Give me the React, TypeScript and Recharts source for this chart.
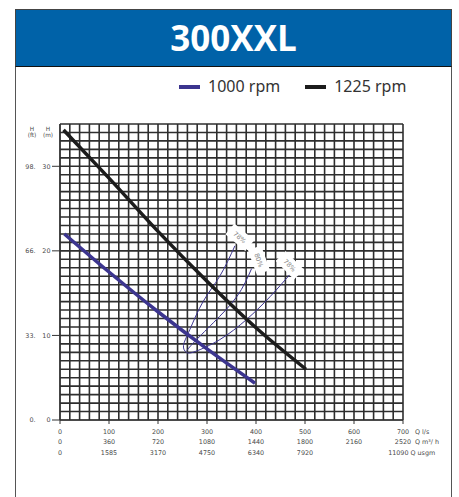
import React from 'react';
import { LineChart, Line, XAxis, YAxis, CartesianGrid, Legend, ReferenceDot } from 'recharts';

// tick labels
const flowLs = [0, 100, 200, 300, 400, 500, 600, 700];
const flowM3h = ['0', '360', '720', '1080', '1440', '1800', '2160', '2520'];
const flowUsgm = ['0', '1585', '3170', '4750', '6340', '7920', '', '11090'];
const headM = [0, 10, 20, 30];
const headFt = ['0.', '33.', '66.', '98.'];

// pump curves (Q l/s, H m)
const rpm1000 = [
  { q: 9, h: 22.0 },
  { q: 100, h: 17.5 },
  { q: 200, h: 12.8 },
  { q: 300, h: 8.4 },
  { q: 398, h: 4.35 },
];
const rpm1225 = [
  { q: 7, h: 34.3 },
  { q: 100, h: 28.6 },
  { q: 200, h: 22.3 },
  { q: 300, h: 16.4 },
  { q: 400, h: 10.9 },
  { q: 502, h: 6.0 },
];

// iso-efficiency curves
const eff78 = [
  { q: 357, h: 20.6 },
  { q: 326, h: 17.0 },
  { q: 292, h: 14.0 },
  { q: 265, h: 10.7 },
  { q: 252, h: 8.8 },
  { q: 258, h: 8.0 },
  { q: 276, h: 8.1 },
  { q: 326, h: 9.5 },
  { q: 381, h: 11.9 },
  { q: 429, h: 14.6 },
  { q: 469, h: 17.2 },
];
const eff80 = [
  { q: 391, h: 17.9 },
  { q: 361, h: 14.6 },
  { q: 313, h: 11.5 },
  { q: 272, h: 9.1 },
  { q: 259, h: 8.2 },
];
const effLabels = [
  { q: 367, h: 21.6, text: '78%', angle: 40 },
  { q: 406, h: 18.9, text: '80%', angle: 70 },
  { q: 469, h: 18.3, text: '78%', angle: 45 },
];

const gridQ = Array.from({ length: 36 }, (_, i) => i * 20);
const gridH = Array.from({ length: 36 }, (_, i) => i);

const PURPLE = '#3c358f';
const INK = '#1c1c1c';
const TICK_FONT = { fontFamily: 'DejaVu Sans', fontSize: 6.4, fill: '#4a4a4a' };

const FlowTick = (props: any) => {
  const { x, y, payload } = props;
  const i = flowLs.indexOf(payload.value);
  const last = i === flowLs.length - 1;
  return (
    <g>
      <text x={x} y={y + 8} textAnchor="middle" {...TICK_FONT}>{flowLs[i]}</text>
      <text x={x} y={y + 17.8} textAnchor="middle" {...TICK_FONT}>{flowM3h[i]}</text>
      <text x={last ? x + 5.5 : x} y={y + 28.6} textAnchor={last ? 'end' : 'middle'} {...TICK_FONT}>{flowUsgm[i]}</text>
      {last && (
        <>
          <text x={x + 12} y={y + 8} {...TICK_FONT}>Q l/s</text>
          <text x={x + 12} y={y + 17.8} {...TICK_FONT}>Q m³/ h</text>
          <text x={x + 7.5} y={y + 28.6} {...TICK_FONT}>Q usgm</text>
        </>
      )}
    </g>
  );
};

const HeadTick = (props: any) => {
  const { x, y, payload } = props;
  const i = headM.indexOf(payload.value);
  return (
    <g>
      <text x={x + 0.5} y={y + 2.3} textAnchor="end" {...TICK_FONT}>{headM[i]}</text>
      <text x={x - 14.5} y={y + 2.3} textAnchor="end" {...TICK_FONT}>{headFt[i]}</text>
    </g>
  );
};

const HeadLabel = () => (
  <g>
    <text x={48} y={130.5} textAnchor="middle" {...TICK_FONT} fontSize={5.8}>H</text>
    <text x={48} y={136.5} textAnchor="middle" {...TICK_FONT} fontSize={5.8}>(m)</text>
    <text x={32} y={130.5} textAnchor="middle" {...TICK_FONT} fontSize={5.8}>H</text>
    <text x={32} y={136.5} textAnchor="middle" {...TICK_FONT} fontSize={5.8}>(ft)</text>
  </g>
);

const EffTag = (props: any) => {
  const { cx, cy, text, angle } = props;
  return (
    <g transform={`translate(${cx},${cy}) rotate(${angle})`}>
      <rect x={-13} y={-7} width={26} height={14} fill="#fff" />
      <text y={2.4} textAnchor="middle" fontFamily="DejaVu Sans" fontSize={6.5} fill="#888">{text}</text>
    </g>
  );
};

const renderLegend = (props: any) => {
  const items = (props.payload || []).filter((p: any) => p.value === '1000 rpm' || p.value === '1225 rpm');
  return (
    <div style={{ display: 'flex', fontFamily: 'Noto Sans', fontSize: 16, lineHeight: '20px', color: '#333' }}>
      {items.map((p: any) => (
        <span key={p.value} style={{ display: 'flex', alignItems: 'center', marginRight: 25 }}>
          <span style={{ display: 'inline-block', width: 21, height: 4, background: p.color, marginRight: 8, position: 'relative', top: 1 }} />
          {p.value}
        </span>
      ))}
    </div>
  );
};

export default function App() {
  return (
    <div style={{ position: 'fixed', left: 0, top: 0, width: 459, height: 497, overflow: 'hidden', background: '#fff' }}>
      <div style={{ position: 'absolute', left: 15, top: 66, width: 437, height: 500, boxSizing: 'border-box', borderLeft: '1.5px solid #555', borderRight: '1.5px solid #555', borderTop: '1.5px solid #111' }} />
      <div style={{ position: 'absolute', left: 15, top: 9, width: 437, height: 58, boxSizing: 'border-box', background: '#0062a8', border: '1.5px solid #444', borderBottom: '1.5px solid #111', color: '#fff', fontFamily: 'Open Sans', fontWeight: 700, fontSize: 35, textAlign: 'center', lineHeight: '56px' }}>
        300XXL
      </div>
      <div style={{ position: 'absolute', left: 0, top: 0 }}>
        <LineChart width={459} height={497} margin={{ top: 124, right: 56, bottom: 0, left: 0 }}>
          <CartesianGrid horizontalValues={gridH} verticalValues={gridQ} stroke="#2e2e2e" strokeWidth={1.6} />
          <XAxis dataKey="q" type="number" domain={[0, 700]} ticks={flowLs} height={77} tickSize={4} stroke="#333" tick={<FlowTick />} interval={0} />
          <YAxis type="number" domain={[0, 35]} ticks={headM} width={60} tickSize={8} stroke="#333" tick={<HeadTick />} interval={0} label={<HeadLabel />} />
          <Legend verticalAlign="middle" align="center" content={renderLegend} wrapperStyle={{ top: 76, left: 179, width: 260, height: 20 }} />
          <Line data={eff78} dataKey="h" name="eff78" type="natural" stroke={PURPLE} strokeWidth={1} dot={false} legendType="none" isAnimationActive={false} />
          <Line data={eff80} dataKey="h" name="eff80" type="natural" stroke={PURPLE} strokeWidth={1} dot={false} legendType="none" isAnimationActive={false} />
          <Line data={rpm1000} dataKey="h" name="1000 rpm" type="monotone" stroke={PURPLE} strokeWidth={3.5} dot={false} isAnimationActive={false} />
          <Line data={rpm1225} dataKey="h" name="1225 rpm" type="monotone" stroke={INK} strokeWidth={3.5} dot={false} isAnimationActive={false} />
          {effLabels.map((l, i) => (
            <ReferenceDot key={i} x={l.q} y={l.h} r={1} shape={(p: any) => <EffTag {...p} text={l.text} angle={l.angle} />} />
          ))}
        </LineChart>
      </div>
    </div>
  );
}
